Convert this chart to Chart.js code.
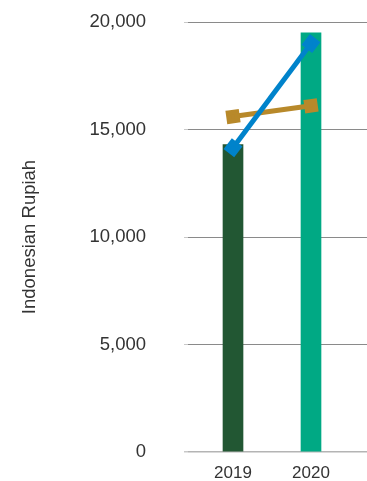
<!DOCTYPE html>
<html>
<head>
<meta charset="utf-8">
<script src="https://cdn.jsdelivr.net/npm/chart.js@4"></script>
<style>
  html, body { margin: 0; padding: 0; background: #fff; }
  #wrap { width: 367px; height: 481px; }
</style>
</head>
<body>
<div id="wrap"><canvas id="rupiahChart"></canvas></div>
<script>
// dados
const categories = ['2019', '2020'];
const barValues = [14300, 19500];
const blueLine = [14150, 19000];
const goldLine = [15600, 16100];
const yTicks = [0, 5000, 10000, 15000, 20000];

const years = categories.map(Number);
const toPoints = (vals) => vals.map((v, i) => ({ x: years[i], y: v }));

const ctx = document.getElementById('rupiahChart').getContext('2d');

const data = {
    datasets: [
        {
            type: 'line',
            data: toPoints(blueLine),
            borderColor: '#0083CB',
            backgroundColor: '#0083CB',
            borderWidth: 5,
            pointStyle: 'rect',
            pointRadius: 6,
            pointRotation: 38,
            order: 0
        },
        {
            type: 'line',
            data: toPoints(goldLine),
            borderColor: '#B8892A',
            backgroundColor: '#B8892A',
            borderWidth: 5,
            pointStyle: 'rect',
            pointRadius: 6,
            pointRotation: -8,
            order: 1
        },
        {
            type: 'bar',
            data: toPoints(barValues),
            backgroundColor: ['#225733', '#00A984'],
            barThickness: 20,
            order: 2
        }
    ]
};

const config = {
    type: 'bar',
    data: data,
    options: {
        responsive: true,
        maintainAspectRatio: false,
        animation: false,
        layout: { autoPadding: false, padding: { top: 22, right: 0, bottom: 0, left: 0 } },
        plugins: {
            legend: { display: false },
            tooltip: { enabled: false }
        },
        scales: {
            x: {
                type: 'linear',
                offset: false,
                bounds: 'ticks',
                min: 2018.423,
                max: 2020.718,
                afterBuildTicks: (axis) => { axis.ticks = years.map(v => ({ value: v })); },
                afterFit: (scale) => {
                    scale.height = 29;
                    scale.paddingLeft = 0; scale.paddingRight = 0;
                    scale.paddingTop = 0; scale.paddingBottom = 0;
                },
                grid: { display: false, drawTicks: false },
                border: { display: false },
                ticks: {
                    color: '#333',
                    padding: 11,
                    maxRotation: 0,
                    minRotation: 0,
                    autoSkip: false,
                    font: { family: 'Liberation Sans', size: 17 },
                    callback: (v) => String(v)
                }
            },
            y: {
                min: 0,
                max: 20000,
                afterBuildTicks: (axis) => { axis.ticks = yTicks.map(v => ({ value: v })); },
                afterFit: (scale) => {
                    scale.width = 188;
                    scale.paddingLeft = 0; scale.paddingRight = 0;
                    scale.paddingTop = 0; scale.paddingBottom = 0;
                },
                border: { display: false },
                grid: {
                    color: (c) => c.tick && c.tick.value === 0 ? '#b4b4b4' : '#8a8a8a',
                    lineWidth: (c) => c.tick && c.tick.value === 0 ? 1.5 : 1,
                    tickColor: '#c8c8c8',
                    tickLength: 4
                },
                title: {
                    display: true,
                    text: 'Indonesian Rupiah',
                    color: '#333',
                    padding: { top: 19, bottom: 0 },
                    font: { family: 'Liberation Sans', size: 18.5 }
                },
                ticks: {
                    color: '#333',
                    padding: 38,
                    font: { family: 'Liberation Sans', size: 18.5 },
                    callback: (v) => v.toLocaleString('en-US')
                }
            }
        }
    }
};

const rupiahChart = new Chart(ctx, config);
</script>
</body>
</html>
